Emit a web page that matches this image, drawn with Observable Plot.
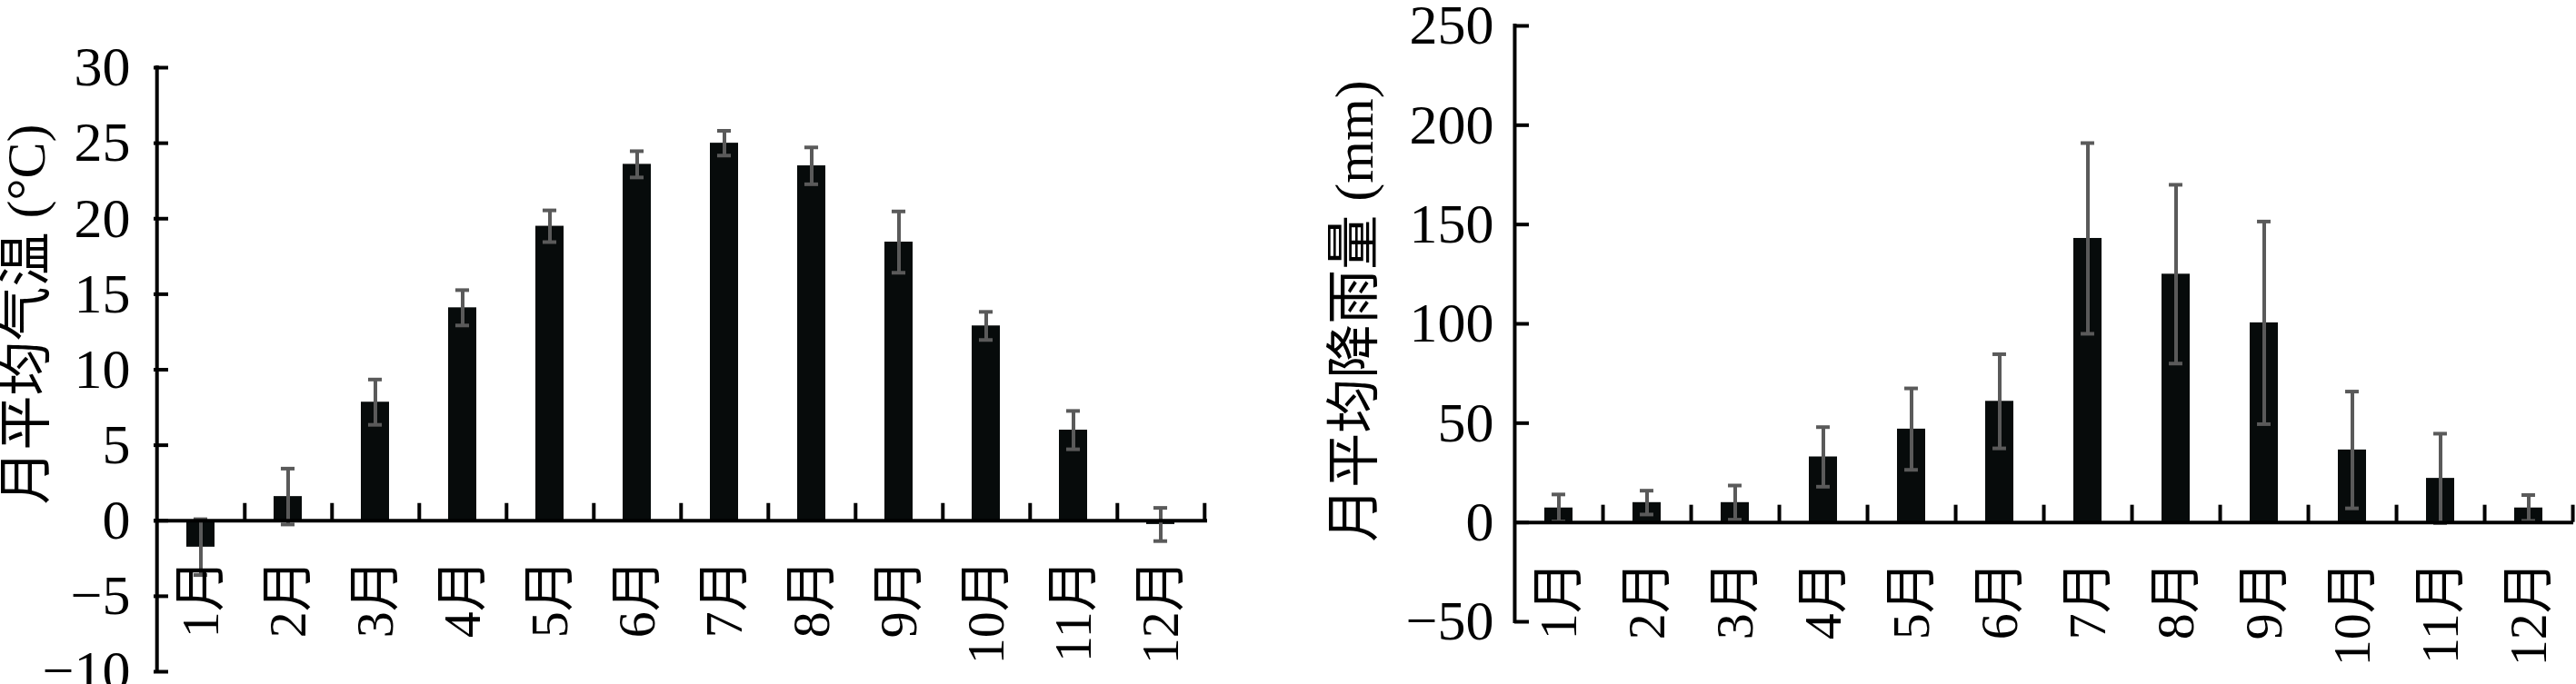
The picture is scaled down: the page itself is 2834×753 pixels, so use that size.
<!DOCTYPE html>
<html><head><meta charset="utf-8">
<script src="https://cdn.jsdelivr.net/npm/d3@7"></script>
<script src="https://cdn.jsdelivr.net/npm/@observablehq/plot@0.6"></script>
<style>
html,body{margin:0;padding:0;background:#fff;}
#wrap{position:relative;width:2834px;height:753px;overflow:hidden;background:#fff;}
#wrap svg{position:absolute;top:0;}
</style></head><body><div id="wrap"></div>
<script>
// Categories
const months = ["1月","2月","3月","4月","5月","6月","7月","8月","9月","10月","11月","12月"];
// Monthly mean temperature (°C) and error
const tempMean = [-1.75, 1.6, 7.85, 14.1, 19.5, 23.6, 25.0, 23.5, 18.45, 12.9, 6.0, -0.25];
const tempErr  = [1.85, 1.85, 1.5, 1.17, 1.05, 0.87, 0.82, 1.22, 2.03, 0.93, 1.27, 1.1];
// Monthly mean precipitation (mm) and error
const rainMean = [7.3, 10, 10, 33, 47, 61, 143, 125, 100.5, 36.5, 22.2, 7.3];
const rainErr  = [6.8, 6, 8.6, 15, 20.5, 23.7, 48, 45, 51, 29.4, 22.5, 6.5];
// Tick values
const tempTicks = [-10, -5, 0, 5, 10, 15, 20, 25, 30];
const rainTicks = [-50, 0, 50, 100, 150, 200, 250];
const tempTitle = "月平均气温 (°C)";
const rainTitle = "月平均降雨量 (mm)";

const FONT = '"Liberation Serif", "Noto Sans CJK SC", serif';
const fmt = d => d < 0 ? "\u2212" + Math.abs(d) : String(d);

function panel({left, width, marginLeft, marginRight, marginTop, marginBottom, domain, ticks, mean, err, title, titleDx, titleDy, tickPadding}) {
  const height = 753;
  const data = months.map((m, i) => ({month: m, v: mean[i], e: err[i]}));
  const frameW = width - marginLeft - marginRight;
  const step = frameW / months.length;
  const pad = 0.68;
  const bw = step * (1 - pad);
  const capInset = (bw - 15) / 2;
  const errColor = "#5a5a5a";
  const svg = Plot.plot({
    width, height, marginLeft, marginRight, marginTop, marginBottom,
    style: {fontFamily: FONT, color: "#000", background: "transparent", overflow: "visible"},
    x: {type: "band", domain: months, paddingInner: pad, paddingOuter: pad / 2, axis: null},
    y: {domain, axis: null},
    marks: [
      Plot.barY(data, {x: "month", y: "v", fill: "#070b0b"}),
      Plot.ruleX(data, {x: "month", y1: d => d.v - d.e, y2: d => d.v + d.e, stroke: errColor, strokeWidth: 4}),
      Plot.tickY(data, {x: "month", y: d => d.v + d.e, stroke: errColor, strokeWidth: 4, insetLeft: capInset, insetRight: capInset}),
      Plot.tickY(data, {x: "month", y: d => d.v - d.e, stroke: errColor, strokeWidth: 4, insetLeft: capInset, insetRight: capInset}),
      Plot.ruleY([0], {stroke: "#000", strokeWidth: 4}),
      Plot.ruleX(months, {x: d => d, y1: () => 0, y2: () => 0, dx: step / 2, insetBottom: 19, stroke: "#000", strokeWidth: 4}),
      Plot.ruleX([months[0]], {x: d => d, y1: () => domain[0], y2: () => domain[1], dx: -step / 2, stroke: "#000", strokeWidth: 4, strokeLinecap: "square"}),
      Plot.ruleY(ticks, {y: d => d, insetRight: frameW - 16, stroke: "#000", strokeWidth: 4}),
      Plot.axisY({ticks, tickSize: 0, tickPadding, tickFormat: fmt, fontSize: 62, label: null}),
      Plot.text(months, {x: d => d, y: () => 0, text: d => d, rotate: -90, textAnchor: "end", lineAnchor: "middle", dy: 42, fontSize: 58, fill: "#000"}),
      Plot.text([title], {frameAnchor: "left", text: d => d, rotate: -90, textAnchor: "middle", lineAnchor: "middle", dx: titleDx, dy: titleDy, fontSize: 60, fill: "#000"})
    ]
  });
  svg.style.left = left + "px";
  document.getElementById("wrap").append(svg);
}

panel({left: 0, width: 1400, marginLeft: 169, marginRight: 72, marginTop: 74, marginBottom: 14,
  domain: [-10, 30], ticks: tempTicks, mean: tempMean, err: tempErr, title: tempTitle,
  titleDx: -140, titleDy: -61, tickPadding: 26});
panel({left: 1400, width: 1434, marginLeft: 266, marginRight: 3, marginTop: 28, marginBottom: 69,
  domain: [-50, 250], ticks: rainTicks, mean: rainMean, err: rainErr, title: rainTitle,
  titleDx: -175.6, titleDy: -14, tickPadding: 23});
</script>
</body></html>
